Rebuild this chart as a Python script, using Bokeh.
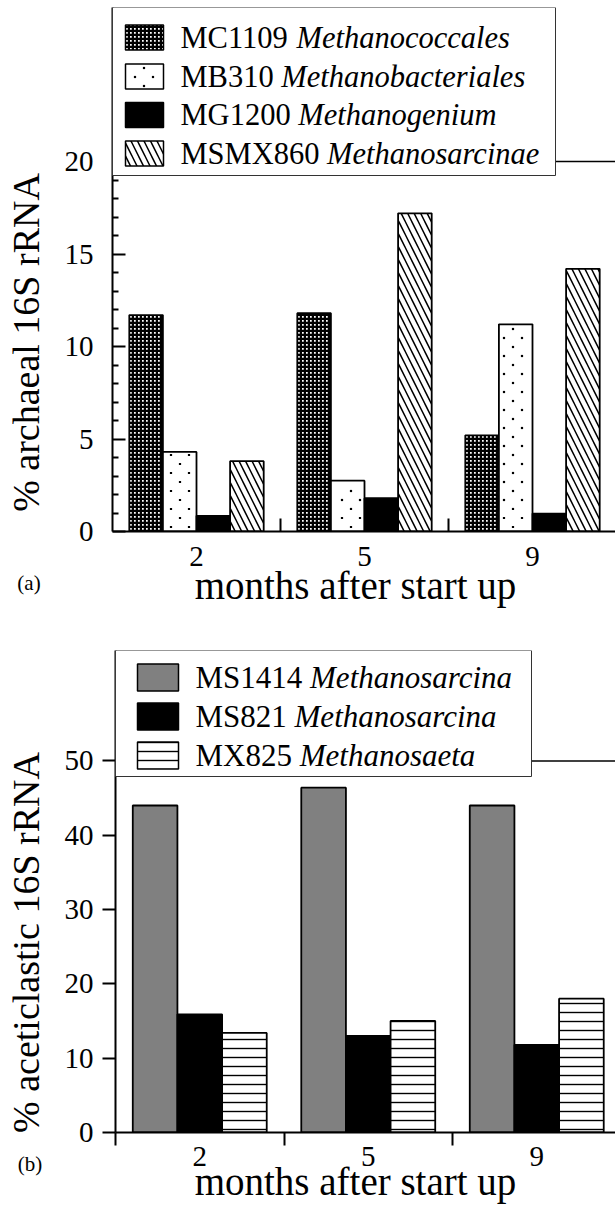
from math import pi, ceil
import numpy as np
from bokeh.plotting import figure
from bokeh.models import Range1d, FixedTicker, BoxAnnotation, Label, Span, Title
from bokeh.layouts import column, row
from bokeh.embed import file_html
from bokeh.resources import INLINE

# ---------------- data ----------------
months = ["2", "5", "9"]

a_codes = ["MC1109", "MB310", "MG1200", "MSMX860"]
a_taxa = ["Methanococcales", "Methanobacteriales", "Methanogenium", "Methanosarcinae"]
a_MC1109 = [11.7, 11.8, 5.2]
a_MB310 = [4.3, 2.75, 11.2]
a_MG1200 = [0.85, 1.8, 0.97]
a_MSMX860 = [3.8, 17.2, 14.2]
a_values = [a_MC1109, a_MB310, a_MG1200, a_MSMX860]
a_ticks = [0, 5, 10, 15, 20]
a_minor = [v for v in range(1, 20) if v % 5]

b_codes = ["MS1414", "MS821", "MX825"]
b_taxa = ["Methanosarcina", "Methanosarcina", "Methanosaeta"]
b_MS1414 = [44.0, 46.4, 44.0]
b_MS821 = [15.9, 13.0, 11.8]
b_MX825 = [13.4, 15.0, 18.0]
b_values = [b_MS1414, b_MS821, b_MX825]
b_ticks = [0, 10, 20, 30, 40, 50]

# ---------------- styles ----------------
FONT = "Liberation Serif"
a_styles = [
    dict(fill_color="white", hatch_pattern="+", hatch_color="black", hatch_scale=4, hatch_weight=2.5),
    dict(fill_color="white"),            # sparse staggered dots are added on top
    dict(fill_color="black"),
    dict(fill_color="white", hatch_pattern="\\", hatch_color="black", hatch_scale=13, hatch_weight=1.5),
]
a_dotted = [False, True, False, False]
b_styles = [
    dict(fill_color="#808080"),
    dict(fill_color="black"),
    dict(fill_color="white", hatch_pattern="-", hatch_color="black", hatch_scale=9, hatch_weight=1.4),
]
b_dotted = [False, False, False]

# Times/Liberation Serif advance widths (per 1000 em) for the legend code text
W = {"M": 889, "C": 667, "B": 667, "G": 722, "S": 556, "X": 722, " ": 250}
for d in "0123456789":
    W[d] = 500


def text_w(s, fs):
    return sum(W.get(c, 500) for c in s) / 1000.0 * fs


def dot_texture(x0, x1, y0, y1, pitch=9.0, margin=2.5):
    """Staggered dot texture (pixel units, y upwards) filling a rectangle."""
    xs, ys = [], []
    r = 0
    while True:
        yy = pitch / 2 + pitch * r
        if yy > y1 - margin:
            break
        if yy > y0 + margin:
            start = pitch / 2 + pitch * (r % 2)
            k = ceil((x0 + margin - start) / (2 * pitch))
            xx = start + 2 * pitch * k
            while xx < x1 - margin:
                xs.append(xx)
                ys.append(yy)
                xx += 2 * pitch
        r += 1
    return xs, ys


LEFT_W = 50      # width of the strip holding the rotated y title
PAGE_W = 615


def no_align(fig):
    if "frame_align" in fig.properties():
        fig.frame_align = False


def make_panel(values, styles, dotted, codes, taxa, ticks, minor, y_label, tag, g):
    fig_top, fig_h = g["top"], g["h"]
    frame_left = g["frame_left"]
    bl = frame_left - LEFT_W
    main_w = PAGE_W - LEFT_W
    bt, bb = g["bt"], g["bb"]
    frame_w = main_w - bl
    frame_h = fig_h - bt - bb
    cat_px, y_px = g["cat_px"], g["y_px"]
    x_max = frame_w / cat_px
    y_max = frame_h / y_px
    frame_bottom = fig_top + bt + frame_h

    def X(px):
        return (px - frame_left) / cat_px

    def Y(py):
        return (frame_bottom - py) / y_px

    # ---- left strip with the y title and the panel tag ----
    side = figure(width=LEFT_W, height=fig_h, output_backend="svg", toolbar_location=None,
                  x_range=Range1d(0, LEFT_W), y_range=Range1d(0, fig_h),
                  x_axis_location=None, y_axis_location=None,
                  min_border_left=0, min_border_right=0, min_border_top=0, min_border_bottom=0)
    no_align(side)
    side.outline_line_color = None
    side.xgrid.visible = False
    side.ygrid.visible = False
    side.add_layout(Label(x=25.5, y=fig_top + fig_h - g["ylab_y"], text=y_label, angle=pi / 2,
                          text_font=FONT, text_font_size="38px", text_color="black",
                          text_align="center", text_baseline="middle"))
    side.add_layout(Label(x=g["tag"][0], y=fig_top + fig_h - g["tag"][1], text=tag,
                          text_font=FONT, text_font_size="21px", text_color="black",
                          text_align="center", text_baseline="middle"))

    # ---- main plot ----
    p = figure(width=main_w, height=fig_h, output_backend="svg", toolbar_location=None,
               x_range=Range1d(0, x_max), y_range=Range1d(0, y_max),
               min_border_left=bl, min_border_right=0, min_border_top=bt, min_border_bottom=bb)
    no_align(p)
    p.outline_line_color = None
    p.xgrid.visible = False
    p.ygrid.visible = False

    n = len(values)
    bar_w = g["bar_w"]
    idx = np.arange(len(months)) + 0.5
    for j, (vals, st, dot) in enumerate(zip(values, styles, dotted)):
        xs = idx + (j - (n - 1) / 2.0) * bar_w
        p.vbar(x=xs, top=vals, bottom=0, width=bar_w, line_color="black", line_width=1.8, **st)
        if dot:
            dx, dy = [], []
            for xc, v in zip(xs, vals):
                px_, py_ = dot_texture((xc - bar_w / 2) * cat_px, (xc + bar_w / 2) * cat_px, 0, v * y_px)
                dx += [q / cat_px for q in px_]
                dy += [q / y_px for q in py_]
            p.scatter(dx, dy, marker="square", size=2.2, fill_color="black", line_color=None)

    # top edge of the plotting frame
    p.add_layout(Span(location=ticks[-1], dimension="width", line_color="black", line_width=1.5))

    # legend (box, swatches, code + italic taxon)
    lx0, lx1, ly1 = g["leg"]
    p.add_layout(BoxAnnotation(left=X(lx0), right=X(lx1), bottom=Y(ly1), top=y_max,
                               fill_color="white", fill_alpha=1, line_color="#333333",
                               line_alpha=1, line_width=1, line_dash="solid"))
    px0, px1, ph = g["patch"]
    fs = g["leg_fs"]
    for rc, st, dot, code, taxon in zip(g["rows"], styles, dotted, codes, taxa):
        p.add_layout(BoxAnnotation(left=X(px0), right=X(px1), bottom=Y(rc + ph / 2), top=Y(rc - ph / 2),
                                   line_color="black", line_alpha=1, line_width=1.5, line_dash="solid",
                                   fill_alpha=1, **st))
        if dot:
            sx0, sx1 = px0 - frame_left, px1 - frame_left
            sy0, sy1 = frame_bottom - (rc + ph / 2), frame_bottom - (rc - ph / 2)
            px_, py_ = dot_texture(sx0, sx1, sy0, sy1)
            p.scatter([q / cat_px for q in px_], [q / y_px for q in py_], marker="square", size=2.2,
                      fill_color="black", line_color=None, level="overlay")
        p.add_layout(Label(x=X(g["text_x"]), y=Y(rc), text=code, text_font=FONT,
                           text_font_size=f"{fs}px", text_color="black",
                           text_align="left", text_baseline="middle"))
        p.add_layout(Label(x=X(g["text_x"] + text_w(code + " ", fs)), y=Y(rc), text=taxon,
                           text_font=FONT, text_font_style="italic",
                           text_font_size=f"{fs}px", text_color="black",
                           text_align="left", text_baseline="middle"))

    # x axis
    xa = p.xaxis[0]
    xa.ticker = FixedTicker(ticks=list(idx), minor_ticks=g["x_minor"])
    xa.major_label_overrides = {float(v): m for v, m in zip(idx, months)}
    xa.major_tick_in = 0
    xa.major_tick_out = 0
    xa.minor_tick_in = g["x_in"]
    xa.minor_tick_out = g["x_out"]
    xa.minor_tick_line_width = 2
    xa.axis_line_width = 2
    xa.major_label_standoff = g["x_stand"]
    xa.major_label_text_font = FONT
    xa.major_label_text_font_size = "29px"
    xa.major_label_text_color = "black"

    # y axis
    ya = p.yaxis[0]
    ya.ticker = FixedTicker(ticks=ticks, minor_ticks=minor)
    if g["y_out"]:
        ya.major_tick_in, ya.major_tick_out = 0, 13
    else:
        ya.major_tick_in, ya.major_tick_out = 13, 0
    ya.minor_tick_in = 6
    ya.minor_tick_out = 0
    ya.major_tick_line_width = 2
    ya.minor_tick_line_width = 2
    ya.axis_line_width = 2
    ya.major_label_standoff = g["y_stand"]
    ya.major_label_text_font = FONT
    ya.major_label_text_font_size = "29px"
    ya.major_label_text_color = "black"

    # x title as a below-title, shifted to its place
    xt_fs = 39
    xt = "months after start up"
    p.add_layout(Title(text=xt, align="left", vertical_align="top",
                       offset=g["xlab_cx"] - 8.249 * xt_fs / 2 - frame_left,
                       standoff=g["xlab_standoff"], text_font=FONT, text_font_style="normal",
                       text_font_size=f"{xt_fs}px", text_color="black"), "below")

    return row(side, p, spacing=0)


geo_a = dict(top=0, h=620, frame_left=112, bt=7, bb=89, cat_px=168.0, y_px=18.497, bar_w=0.2,
             leg=(112, 555, 175), rows=[37, 76, 114.5, 153], patch=(125, 163, 25),
             text_x=180, leg_fs=30.5, ylab_y=342, tag=(28.5, 582), xlab_cx=355,
             xlab_standoff=-9, y_out=False, x_minor=[1, 2], x_in=13, x_out=0,
             x_stand=15, y_stand=19)
geo_b = dict(top=620, h=586, frame_left=115, bt=30, bb=74, cat_px=168.5, y_px=7.432, bar_w=0.265,
             leg=(115, 531, 776), rows=[677, 716, 755], patch=(137, 178, 27),
             text_x=195, leg_fs=31, ylab_y=942, tag=(29.5, 1163), xlab_cx=355,
             xlab_standoff=-17, y_out=True, x_minor=[0, 1, 2], x_in=0, x_out=13,
             x_stand=1, y_stand=9)

pa = make_panel(a_values, a_styles, a_dotted, a_codes, a_taxa, a_ticks, a_minor,
                "% archaeal 16S rRNA", "(a)", geo_a)
pb = make_panel(b_values, b_styles, b_dotted, b_codes, b_taxa, b_ticks, [],
                "% aceticlastic 16S rRNA", "(b)", geo_b)

layout = column(pa, pb, spacing=0)
open("out.html", "w").write(file_html(layout, INLINE))
